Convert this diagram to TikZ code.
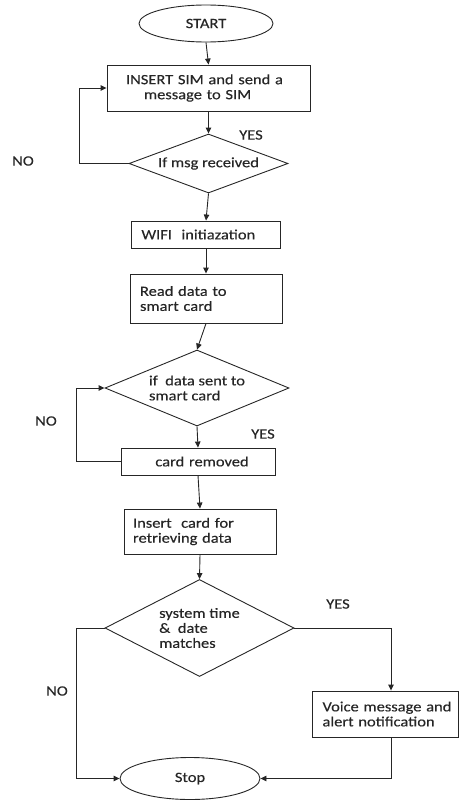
\documentclass[tikz,border=0pt]{standalone}
\usepackage{fontspec}
\setmainfont{Carlito}[FakeStretch=1.16, FakeBold=0.3]
\usetikzlibrary{arrows.meta,shapes.geometric}
\definecolor{ink}{HTML}{262626}
\tikzset{
  line/.style={draw=ink, line width=0.9pt},
  arr/.style={line, -{Triangle[length=6pt,width=5.5pt]}},
  txt/.style={font=\fontsize{14.2}{15}\selectfont, text=ink},
  terminal/.style={ellipse, line, txt, inner sep=0pt},
  stepbox/.style={rectangle, line, txt, align=left, inner ysep=0pt},
  decision/.style={diamond, line, txt, align=left, inner sep=0pt},
  tag/.style={txt, inner sep=0pt}
}
\begin{document}
\begin{tikzpicture}[x=1pt,y=-1pt]
\useasboundingbox (0,0) rectangle (459,800);

% process steps
\node[terminal, minimum width=134pt, minimum height=37pt] (start) at (206,23.5) {START};
\node[stepbox, minimum width=203pt, minimum height=46pt, text width=165pt, inner xsep=19pt] (insert) at (208.5,88) {\mbox{INSERT SIM and send a}\\ \mbox{\hspace*{18pt}message to SIM}};
\node[decision, minimum width=159pt, minimum height=59pt, aspect=2.7] (dec1) at (208.5,163.5) {If msg received};
\node[stepbox, minimum width=149pt, minimum height=27pt, text width=129pt, inner xsep=10pt] (wifi) at (206,234.5) {WIFI\ \ initiazation};
\node[stepbox, minimum width=152pt, minimum height=49pt, text width=132pt, inner xsep=10pt] (read) at (206,298.5) {Read data to\\ smart card};
\node[decision, minimum width=184pt, minimum height=76pt, aspect=2.4] (dec2) at (197,388) {if\ \ data sent to\\ smart card};
\node[stepbox, minimum width=154pt, minimum height=27pt, text width=134pt, inner xsep=10pt, align=center] (removed) at (198,461.5) {\hspace*{8pt}card removed};
\node[stepbox, minimum width=152pt, minimum height=45pt, text width=134pt, inner xsep=9pt] (card) at (200,531.5) {Insert\ \ card for\\ retrieving data};
\node[decision, minimum width=189pt, minimum height=97pt, aspect=1.95] (dec3) at (199.5,628) {system time\\ \&\ \ date\\ matches};
\node[stepbox, minimum width=146pt, minimum height=46pt, text width=126pt, inner xsep=10pt] (voice) at (385.5,714) {\mbox{Voice message and}\\ alert notification};
\node[terminal, minimum width=140pt, minimum height=42pt] (stop) at (190,778.5) {Stop};

% branch labels
\node[tag] (no1) at (23,161) {NO};
\node[tag] (yes1) at (251,135) {YES};
\node[tag] (no2) at (46,421) {NO};
\node[tag] (yes2) at (263,434) {YES};
\node[tag] (yes3) at (338,604) {YES};
\node[tag] (no3) at (57,691) {NO};

% main flow
\draw[arr] (start.south) -- (insert.north);
\draw[arr] (insert.south) -- (dec1.north);
\draw[arr] (dec1.south) -- (wifi.north);
\draw[arr] (wifi.south) -- (read.north);
\draw[arr] (read.south) -- (dec2.north);
\draw[arr] (dec2.south) -- (removed.north);
\draw[arr] (removed.south) -- (card.north);
\draw[arr] (card.south) -- (dec3.north);

% loops back
\draw[arr] (dec1.west) -- ++(-49,0) |- (insert.west);
\draw[arr] (removed.west) -- ++(-44,0) |- (dec2.west);

% final decision
\draw[arr] (dec3.east) -| ([xshift=5.5pt]voice.north);
\draw[arr] ([xshift=5.5pt]voice.south) |- (stop.east);
\draw[arr] (dec3.west) -- ++(-28,0) |- (stop.west);
\end{tikzpicture}
\end{document}
